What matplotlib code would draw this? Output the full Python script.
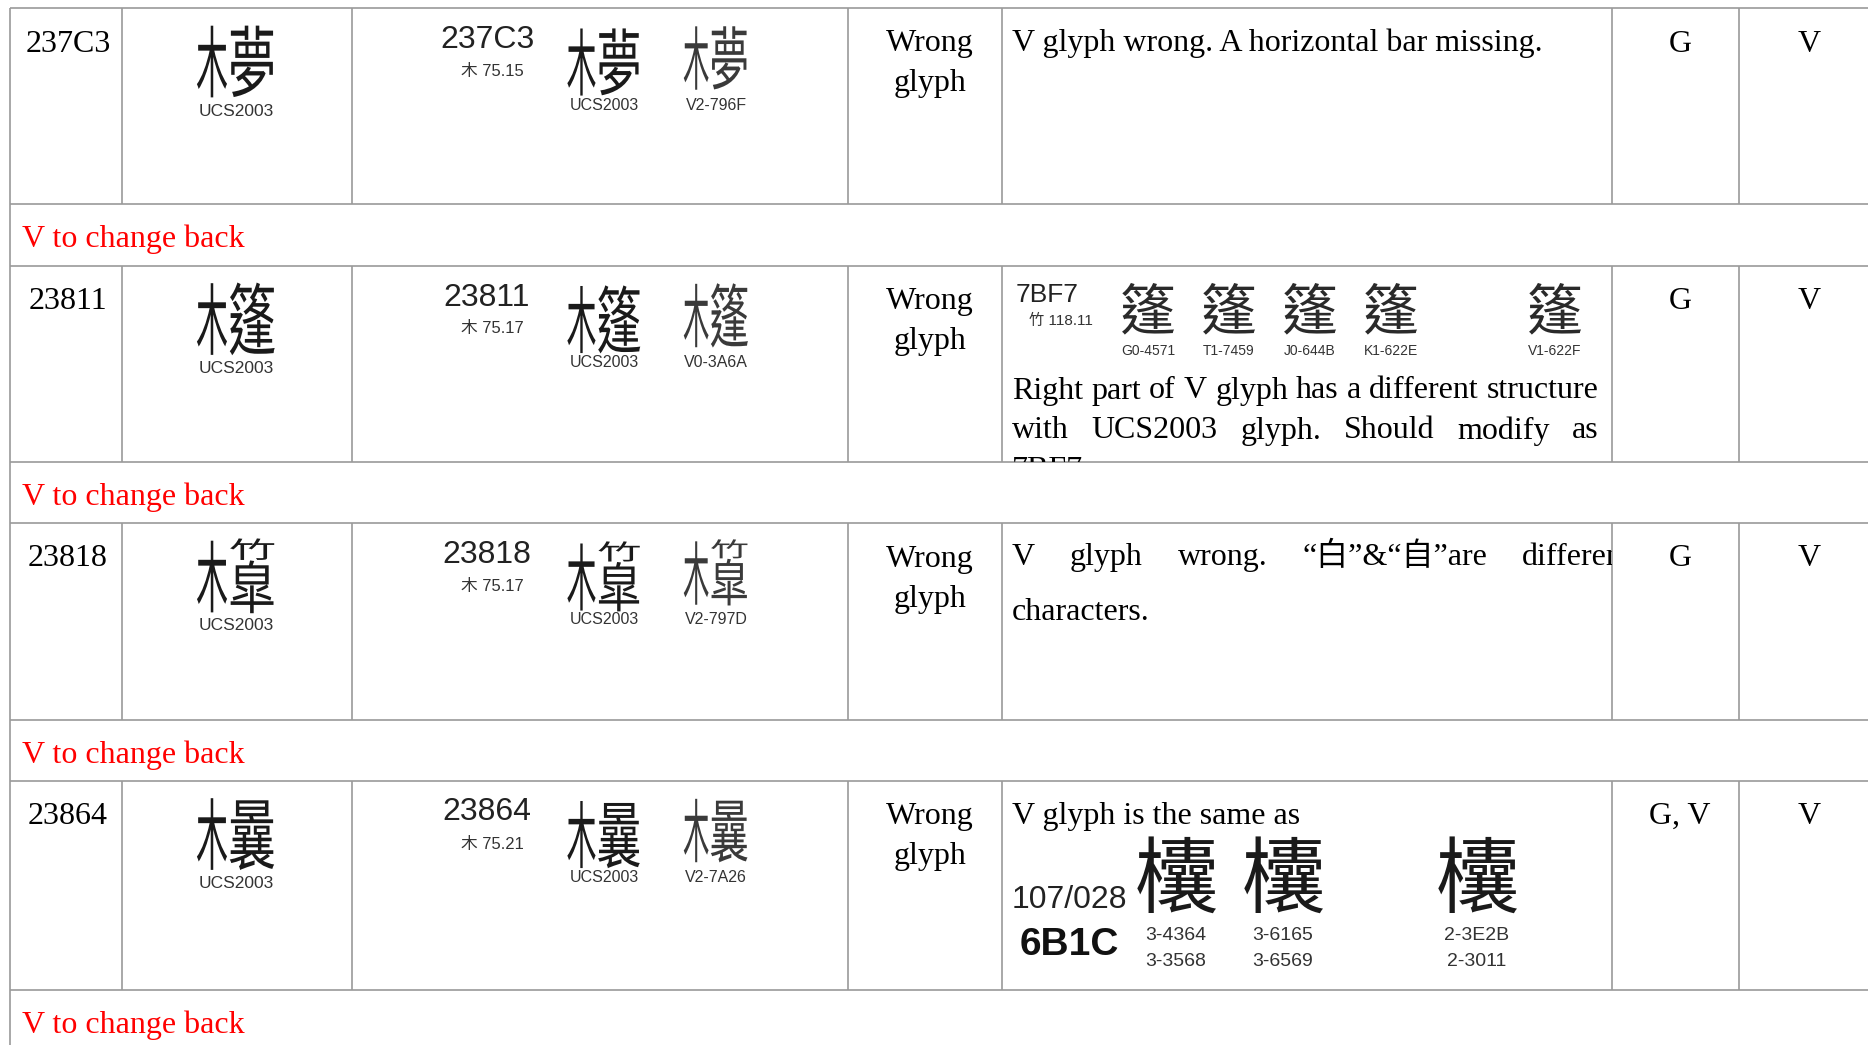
import numpy as np
import matplotlib
matplotlib.use('Agg')
import matplotlib.pyplot as plt
from matplotlib.patheffects import AbstractPathEffect
from matplotlib.path import Path
from matplotlib.transforms import Bbox

# --- table content ---
codes = ['237C3', '23811', '23818', '23864']
rad_strokes = ['木 75.15', '木 75.17', '木 75.17', '木 75.21']
ucs_label = 'UCS2003'
v_sources = ['V2-796F', 'V0-3A6A', 'V2-797D', 'V2-7A26']
error_type = ['Wrong', 'glyph']
from_col = ['G', 'G', 'G', 'G, V']
to_col = ['V', 'V', 'V', 'V']
note = 'V to change back'

# no installed font has these Ext-B ideographs, so each one is written with
# its components: (char, left, right, top, bottom) as fractions of the glyph box
glyph_parts = {
    '237C3': [('木', 0, .40, 0, 1), ('夢', .40, 1, 0, 1)],
    '23811': [('木', 0, .40, 0, 1), ('篷', .40, 1, 0, 1)],
    '23818': [('木', 0, .40, 0, 1), ('竹', .41, 1, 0, .30), ('皐', .40, 1, .27, 1)],
    '23864': [('木', 0, .40, 0, 1), ('曩', .40, 1, 0, 1)],
}

comment1 = 'V glyph wrong. A horizontal bar missing.'
ref2_code, ref2_rad = '7BF7', '竹 118.11'
ref2_sources = ['G0-4571', 'T1-7459', 'J0-644B', 'K1-622E', 'V1-622F']
comment2 = ['Right part of V glyph has a different structure',
            'with UCS2003 glyph. Should modify as', '7BF7.']
comment3 = ['V glyph wrong. \u201c白\u201d&\u201c自\u201dare different', 'characters.']
comment4 = 'V glyph is the same as'
ref4_ids = ['107/028', '6B1C']
ref4_sources = [('3-4364', '3-3568'), ('3-6165', '3-6569'), ('2-3E2B', '2-3011')]

SERIF = ['Liberation Serif', 'Noto Sans CJK TC', 'DejaVu Serif']
SANS = ['Liberation Sans', 'Noto Sans CJK TC', 'DejaVu Sans']
CJK = ['Noto Sans CJK TC', 'Noto Sans CJK SC', 'DejaVu Sans']

W, H = 1868, 1045
fig = plt.figure(figsize=(W / 100, H / 100), dpi=100)
ax = fig.add_axes([0, 0, 1, 1])
ax.set_xlim(0, W)
ax.set_ylim(H, 0)
ax.axis('off')
r = fig.canvas.get_renderer()

col_x = [9.5, 121.5, 351.5, 848, 1002, 1612, 1739, 1879]
row_top = [8, 265.5, 523, 780.5]
row_h = [196, 196.5, 197, 209.5]
LC, LW = '#9a9a9a', 1.2
BODY = 23


class Compose(AbstractPathEffect):
    """lay the glyphs of a component string out inside one square"""
    def __init__(self, boxes):
        super().__init__()
        self.boxes = boxes

    def draw_path(self, renderer, gc, tpath, affine, rgbFace=None):
        v = tpath.vertices
        k = np.clip(np.floor(v[:, 0] / 100).astype(int), 0, len(self.boxes) - 1)
        out = v.copy()
        for i, (x0, x1, y0, y1) in enumerate(self.boxes):
            m = k == i
            out[m, 0] = x0 + (v[m, 0] - 100 * i) / 100 * (x1 - x0)
            out[m, 1] = y0 + (v[m, 1] + 12) / 100 * (y1 - y0)
        renderer.draw_path(gc, Path(out, tpath.codes), affine, rgbFace)


def compose(code, xc, yc, w, h, color='#1a1a1a'):
    parts = glyph_parts[code]
    s = ''.join(p[0] for p in parts)
    em = w / len(s)
    wu, hu = len(s) * 100, h / em * 100
    top = 38 + hu / 2
    boxes = [(l * wu, rr * wu, top - b * hu, top - t * hu) for _, l, rr, t, b in parts]
    ax.text(xc, yc + 0.38 * em, s, ha='center', va='baseline', family=CJK,
            fontsize=em * 0.72, color=color, path_effects=[Compose(boxes)])


def clip_box(x0, x1, y0, y1):
    (a, b), (c, d) = ax.transData.transform([(x0, y0), (x1, y1)])
    return Bbox.from_extents(min(a, c), min(b, d), max(a, c), max(b, d))


def justify(words, x0, x1, y, clip=None, **kw):
    texts = [ax.text(0, y, w, va='baseline', **kw) for w in words]
    widths = [t.get_window_extent(r).width for t in texts]
    gap = (x1 - x0 - sum(widths)) / max(len(words) - 1, 1)
    x = x0
    for t, w in zip(texts, widths):
        t.set_x(x)
        x += w + gap
        if clip is not None:
            t.set_clip_box(clip)
            t.set_clip_on(True)


# grid lines
bottoms = []
for T, h in zip(row_top, row_h):
    ax.hlines(T, col_x[0], W, color=LC, lw=LW)
    ax.hlines(T + h, col_x[0], W, color=LC, lw=LW)
    ax.vlines(col_x[1:], T, T + h, color=LC, lw=LW)
    bottoms.append(T + h)
ax.vlines(col_x[0], row_top[0], H, color=LC, lw=LW)

for i, T in enumerate(row_top):
    base = T + 43.5
    ax.text(68, base, codes[i], ha='center', va='baseline', family=SERIF, fontsize=BODY)
    compose(codes[i], 236, T + 53.5, 80, 78)
    ax.text(236.5, T + 103, ucs_label, ha='center', va='center', family=SANS, fontsize=12.5, color='#333333')
    ax.text(487, T + 40, codes[i], ha='center', va='baseline', family=SANS, fontsize=23, color='#222222')
    ax.text(492, T + 68, rad_strokes[i], ha='center', va='baseline', family=SANS, fontsize=12, color='#333333')
    compose(codes[i], 604, T + 54, 75, 73)
    ax.text(604, T + 97, ucs_label, ha='center', va='center', family=SANS, fontsize=11.5, color='#333333')
    compose(codes[i], 716, T + 50, 66, 69, color='#3a3a3a')
    ax.text(716, T + 97, v_sources[i], ha='center', va='center', family=SANS, fontsize=11.5, color='#333333')
    ax.text(930, base, error_type[0], ha='center', va='baseline', family=SERIF, fontsize=BODY)
    ax.text(930, base + 40, error_type[1], ha='center', va='baseline', family=SERIF, fontsize=BODY)
    ax.text(1680, base, from_col[i], ha='center', va='baseline', family=SERIF, fontsize=BODY)
    ax.text((col_x[6] + col_x[7]) / 2, base, to_col[i], ha='center', va='baseline', family=SERIF, fontsize=BODY)
    # note row
    ax.text(22, bottoms[i] + 43, note, ha='left', va='baseline', family=SERIF, fontsize=BODY, color='#ff0000')

X0, X1 = 1012, 1599
# row 1 comment
T = row_top[0]
ax.text(X0, T + 43.5, comment1, ha='left', va='baseline', family=SERIF, fontsize=BODY)

# row 2 comment with reference glyphs
T = row_top[1]
clip2 = clip_box(col_x[4], col_x[5], T, T + row_h[1])
ax.text(1016, T + 36, ref2_code, ha='left', va='baseline', family=SANS, fontsize=19, color='#222222')
ax.text(1029, T + 59.5, ref2_rad, ha='left', va='baseline', family=SANS, fontsize=11, color='#333333')
for xc, src in zip([1148, 1229, 1310, 1391, 1555], ref2_sources):
    ax.text(xc, T + 48, chr(0x7BF7), ha='center', va='center', family=CJK, fontsize=40, color='#2a2a2a')
    ax.text(xc, T + 85.5, src, ha='center', va='center', family=SANS, fontsize=10, color='#333333')
justify(comment2[0].split(), X0, X1, T + 133, family=SERIF, fontsize=BODY)
justify(comment2[1].split(), X0, X1, T + 173, family=SERIF, fontsize=BODY)
t = ax.text(X0, T + 213, comment2[2], ha='left', va='baseline', family=SERIF, fontsize=BODY)
t.set_clip_box(clip2)
t.set_clip_on(True)

# row 3 comment, overflowing its cell
T = row_top[2]
clip3 = clip_box(col_x[4], col_x[5], T, T + row_h[2])
justify(comment3[0].split(), X0, 1632, T + 42, clip=clip3, family=SERIF, fontsize=BODY)
ax.text(X0, T + 97, comment3[1], ha='left', va='baseline', family=SERIF, fontsize=BODY)

# row 4 comment with reference glyphs
T = row_top[3]
ax.text(X0, T + 43.5, comment4, ha='left', va='baseline', family=SERIF, fontsize=BODY)
ax.text(X0, T + 127.5, ref4_ids[0], ha='left', va='baseline', family=SANS, fontsize=23, color='#222222')
ax.text(1020, T + 174.5, ref4_ids[1], ha='left', va='baseline', family=SANS, fontsize=28,
        fontweight='bold', color='#111111')
for xc, (s1, s2) in zip([1176, 1283, 1477], ref4_sources):
    ax.text(xc, T + 101, chr(0x6B1C), ha='center', va='center', family=CJK, fontsize=60, color='#1a1a1a')
    ax.text(xc, T + 154.5, s1, ha='center', va='center', family=SANS, fontsize=14, color='#333333')
    ax.text(xc, T + 181.5, s2, ha='center', va='center', family=SANS, fontsize=14, color='#333333')

fig.savefig('out.png', dpi=100, facecolor='white')
